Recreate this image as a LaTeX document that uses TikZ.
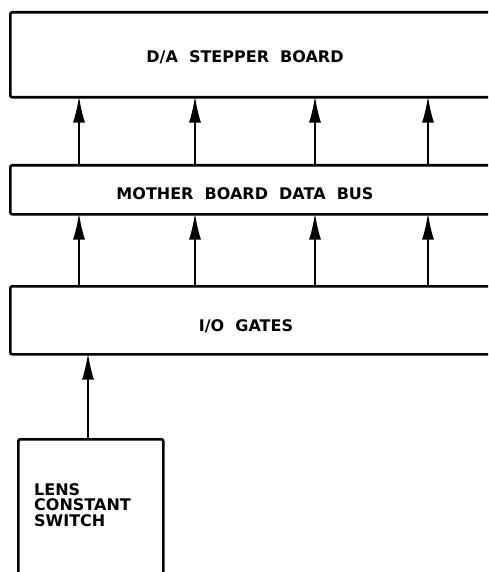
\documentclass[tikz,border=0pt]{standalone}
\usepackage{fontspec}
\setmainfont{DejaVu Sans}
\usetikzlibrary{arrows.meta,positioning}

\tikzset{
  board/.style={draw, line width=2.6pt, rounded corners=2pt, anchor=north west, inner sep=0pt},
  lbl/.style={font=\fontsize{16}{15.5}\selectfont\bfseries},
  bus/.style={line width=2.4pt, shorten >=-3pt, -{Latex[length=27pt,width=12pt]}}
}

\begin{document}
\begin{tikzpicture}[x=1pt, y=-1pt]
      \clip (0,0) rectangle (488,572);
      \node[board, minimum width=520pt, minimum height=85pt] (da) at (9,11) {};
      \node[board, minimum width=520pt, minimum height=49pt] (mb) at (9,164) {};
      \node[board, minimum width=520pt, minimum height=68pt] (io) at (9,285) {};
      \node[board, minimum width=145pt, minimum height=160pt] (lens) at (17,438) {};
      \node[lbl] (datxt) at (245,57) {D/A\ \ STEPPER\ \ BOARD};
      \node[lbl] (mbtxt) at (245,194) {MOTHER\ \ BOARD\ \ DATA\ \ BUS};
      \node[lbl] (iotxt) at (246,326) {I/O\ \ GATES};
      \node[lbl, anchor=north west, align=left, inner sep=0pt] (lenstxt) at (34,483)
        {LENS\\CONSTANT\\SWITCH};
      % bus lines
      \foreach \x [count=\i] in {79,195,315,428} {
        \coordinate (b\i) at (\x,0);
        \draw[bus] (mb.north -| b\i) -- (da.south -| b\i);
        \draw[bus] (io.north -| b\i) -- (mb.south -| b\i);
      }
      \coordinate (sw) at (88,0);
      \draw[bus] (lens.north -| sw) -- (io.south -| sw);
    \end{tikzpicture}
\end{document}
